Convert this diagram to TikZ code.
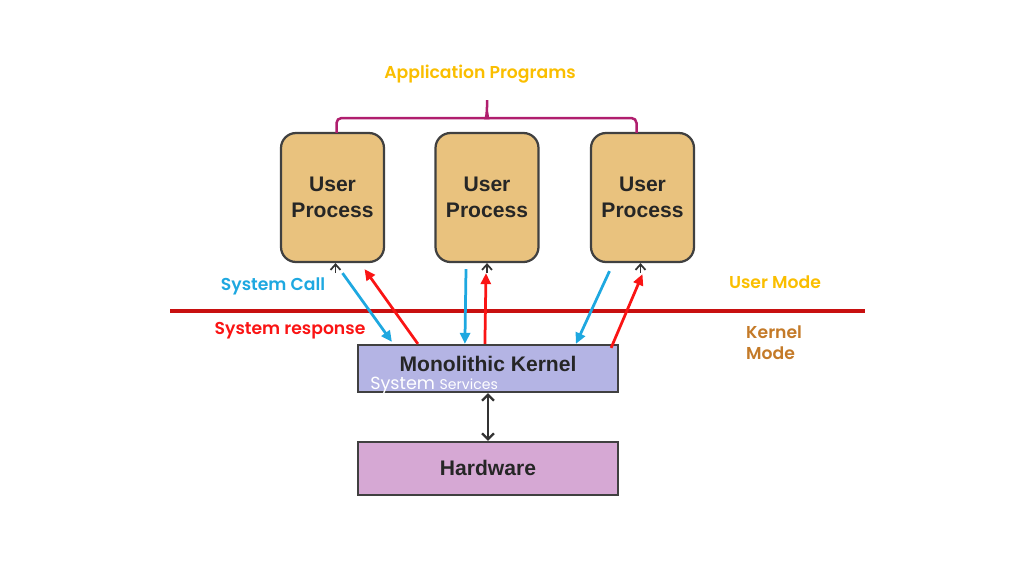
\documentclass[tikz,border=0pt]{standalone}
\usepackage{fontspec}
\setmainfont{Liberation Sans}
\newfontfamily\labelfont[BoldFont={Poppins SemiBold}]{Poppins}
\usetikzlibrary{arrows.meta,calc,positioning}

\definecolor{procfill}{RGB}{233,194,126}
\definecolor{kernfill}{RGB}{180,180,228}
\definecolor{hwfill}{RGB}{214,168,212}
\definecolor{bracecol}{RGB}{176,30,110}
\definecolor{goldcol}{RGB}{250,190,0}
\definecolor{callcol}{RGB}{30,168,224}
\definecolor{respcol}{RGB}{250,20,20}
\definecolor{linecol}{RGB}{200,16,16}
\definecolor{kmodecol}{RGB}{196,122,40}

\tikzset{
  procbox/.style={draw=black!75, line width=0.45mm, fill=procfill, rounded corners=3mm,
    minimum width=2.06cm, minimum height=2.58cm, align=center,
    font=\bfseries\fontsize{12}{14.5}\selectfont, text=black!85},
  flatbox/.style={draw=black!75, line width=0.45mm, minimum width=5.2cm},
  boxtext/.style={font=\bfseries\fontsize{12}{14}\selectfont, text=black!85},
  lbl/.style={font=\labelfont\bfseries\fontsize{9.8}{12}\selectfont, align=left},
  callarrow/.style={draw=callcol, line width=0.55mm, -{Triangle[length=2.2mm,width=2mm]}},
  resparrow/.style={draw=respcol, line width=0.55mm, -{Triangle[length=2.2mm,width=2mm]}},
  stub/.style={draw=black!80, line width=0.35mm, -{Straight Barb[length=1.1mm,width=2mm]}}
}

\begin{document}
\begin{tikzpicture}[x=0.02cm, y=-0.02cm]
  %%%%% START %%%%%
  \useasboundingbox (0,0) rectangle (1024,576);

  % user processes
  \node[procbox] (up1) at (332.5,197.5) {User\\Process};
  \node[procbox] (up2) at (487,197.5) {User\\Process};
  \node[procbox] (up3) at (642.5,197.5) {User\\Process};

  % kernel and hardware
  \node[flatbox, fill=kernfill, minimum height=0.94cm] (kern) at (488,368.5) {};
  \node[boxtext] (kerntitle) at ($(kern)+(0,-5)$) {Monolithic Kernel};
  \node[lbl, font=\labelfont\fontsize{10}{12}\selectfont, text=white, anchor=base west, inner sep=0pt] (services)
    at ($(kern.south west)+(13,-4)$) {System {\fontsize{8}{10}\selectfont Services}};
  \node[flatbox, fill=hwfill, minimum height=1.06cm] (hw) at (488,468.5) {};
  \node[boxtext] (hwtitle) at ($(hw)+(0,-1)$) {Hardware};

  \draw[draw=black!80, line width=0.45mm, {Straight Barb[length=1.2mm,width=2.4mm]}-{Straight Barb[length=1.2mm,width=2.4mm]}]
    (kern.south) -- (hw.north);

  % application programs brace
  \node[lbl, text=goldcol] (apps) at (480,74) {Application Programs};
  \coordinate (brL) at ($(up1.north)+(4,1)$);
  \coordinate (brR) at ($(up3.north)+(-6,1)$);
  \coordinate (brM) at (487,118);
  \draw[bracecol, line width=0.5mm, rounded corners=1mm]
    (brL) -- (brL |- brM) -- ($(brM)+(-5,0)$) .. controls ($(brM)+(-1,0)$) .. ($(brM)+(0,-6)$) -- ($(brM)+(0,-18)$);
  \draw[bracecol, line width=0.5mm, rounded corners=1mm]
    ($(brM)+(0,-6)$) .. controls ($(brM)+(1,0)$) .. ($(brM)+(5,0)$) -- (brR |- brM) -- (brR);

  % mode line and labels
  \coordinate (mlL) at (170,311);
  \coordinate (mlR) at (865,311);
  \draw[linecol, line width=0.8mm] (mlL) -- (mlR);
  \node[lbl, text=callcol] (syscall) at (273,286) {System Call};
  \node[lbl, text=respcol] (sysresp) at (290,331) {System response};
  \node[lbl, text=goldcol] (umode) at (775,282) {User Mode};
  \node[lbl, text=kmodecol, anchor=west] (kmode) at (740,343) {Kernel\\Mode};

  % small tips under the processes
  \draw[stub] ($(up1.south)+(3,10)$) -- ($(up1.south)+(3,0)$);
  \draw[stub] ($(up2.south)+(0,10)$) -- ($(up2.south)+(0,0)$);
  \draw[stub] ($(up3.south)+(-2,10)$) -- ($(up3.south)+(-2,0)$);

  % system calls
  \draw[callarrow] ($(up1.south)+(10,10)$) -- ($(kern.north west)+(35,-2)$);
  \draw[callarrow] ($(up2.south)+(-21,6)$) -- ($(kern.north west)+(108,0)$);
  \draw[callarrow] ($(up3.south)+(-33,8)$) -- ($(kern.north west)+(219,0)$);

  % system responses
  \draw[resparrow] ($(kern.north west)+(61,0)$) -- ($(up1.south)+(32,6)$);
  \draw[resparrow] ($(kern.north west)+(128,0)$) -- ($(up2.south)+(-1,10)$);
  \draw[resparrow] ($(kern.north east)+(-8,4)$) -- ($(up3.south)+(0,11)$);
  %%%%% END %%%%%
\end{tikzpicture}
\end{document}
